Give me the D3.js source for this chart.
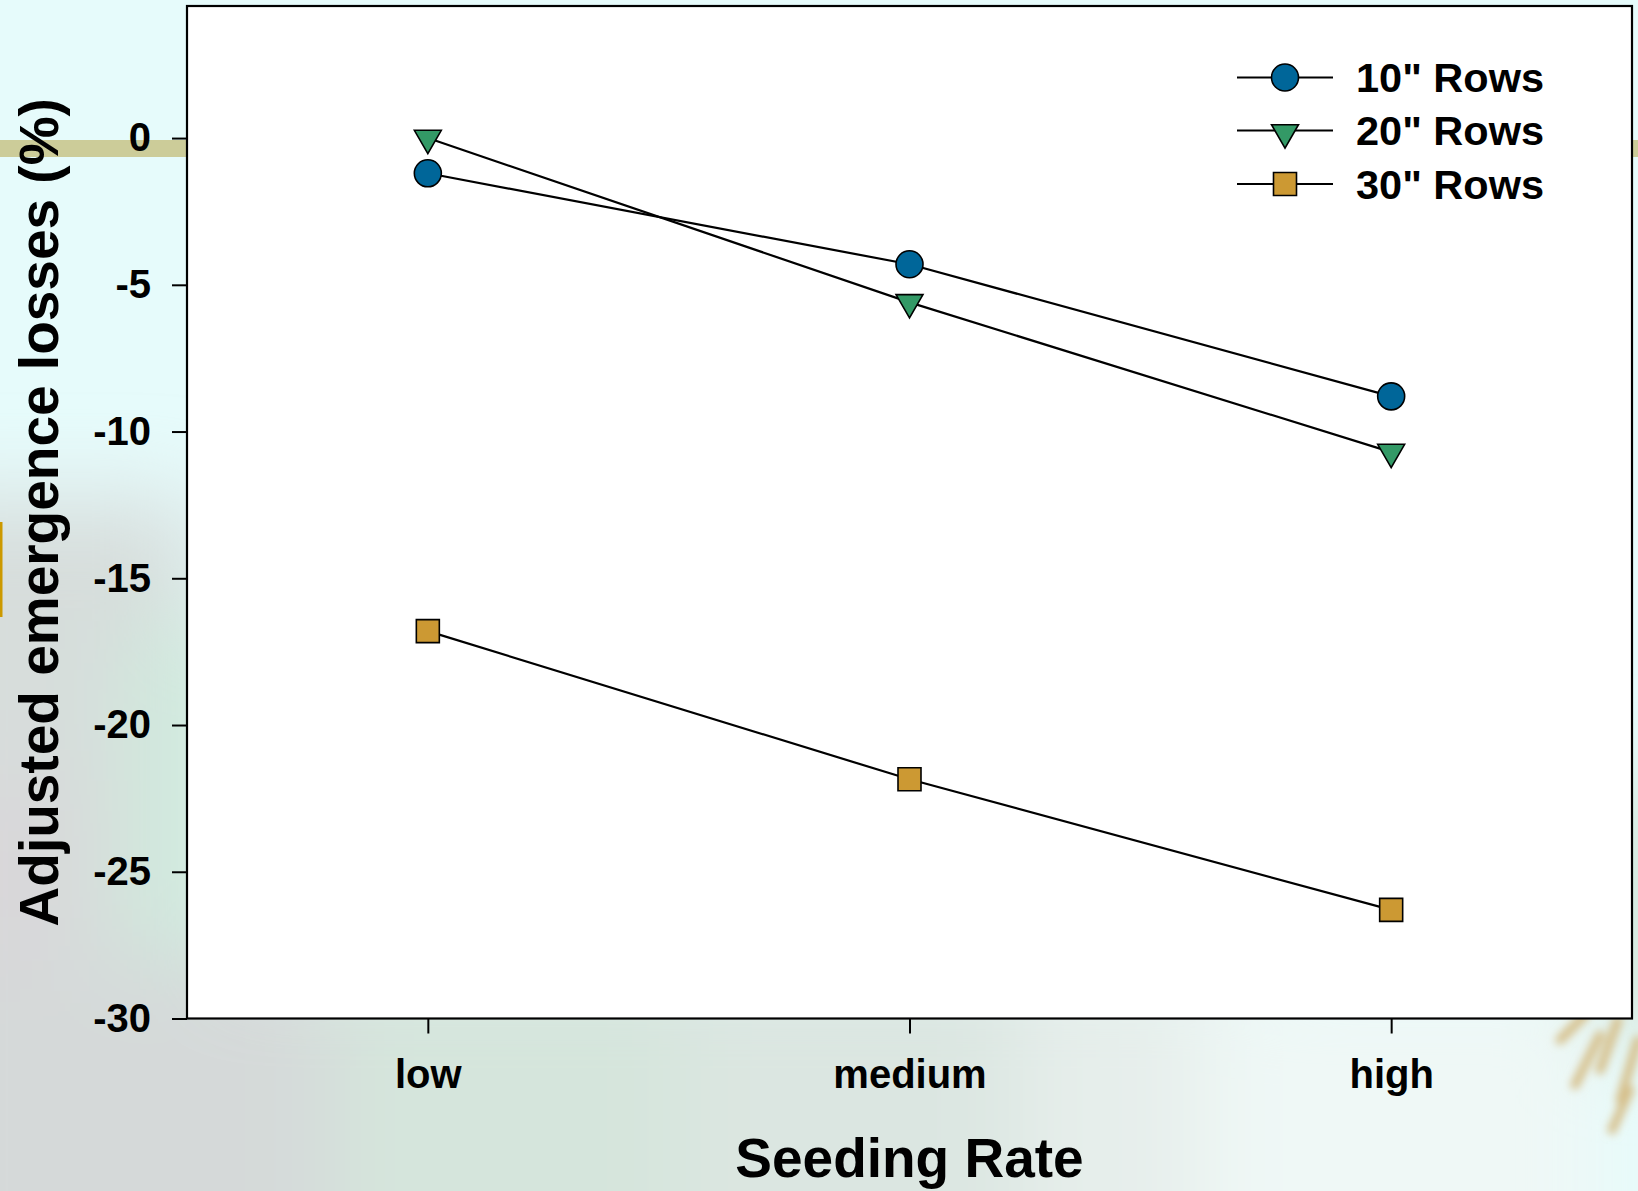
<!DOCTYPE html>
<html>
<head>
<meta charset="utf-8">
<script src="https://cdn.jsdelivr.net/npm/d3@7"></script>
<style>
  html, body { margin: 0; padding: 0; background: #e6fafa; }
  svg { display: block; }
  text { font-family: "Liberation Sans", Arial, sans-serif; font-weight: bold; fill: #000; }
</style>
</head>
<body>
<svg id="chart" width="1638" height="1191"></svg>
<script>
// Seeding-rate categories and adjusted emergence losses (%) per row spacing
const categories = ["low", "medium", "high"];
const rows10 = [-1.2, -4.3, -8.8];
const rows20 = [0.0, -5.6, -10.7];
const rows30 = [-16.8, -21.85, -26.3];
const seriesNames = ['10" Rows', '20" Rows', '30" Rows'];
const yTicks = [0, -5, -10, -15, -20, -25, -30];

const W = 1638, H = 1191;
const plot = { left: 187, right: 1632, top: 6, bottom: 1018.5 };

const svg = d3.select("#chart");

// ---- soft photographic backdrop behind the chart ----
const defs = svg.append("defs");
const blur = defs.append("filter").attr("id", "soft")
  .attr("filterUnits", "userSpaceOnUse")
  .attr("x", -200).attr("y", -200).attr("width", W + 400).attr("height", H + 400);
blur.append("feGaussianBlur").attr("stdDeviation", 45);
const blurSmall = defs.append("filter").attr("id", "softer")
  .attr("x", "-50%").attr("y", "-50%").attr("width", "200%").attr("height", "200%");
blurSmall.append("feGaussianBlur").attr("stdDeviation", 4);

const bg = svg.append("g");
bg.append("rect").attr("width", W).attr("height", H).attr("fill", "#e6fbfb");
const haze = bg.append("g").attr("filter", "url(#soft)");
const patches = [
  { x: -100, y: 500, w: 300, h: 800, c: "#d7dddb" },
  { x: 120, y: 620, w: 120, h: 420, c: "#d0e9dd" },
  { x: -100, y: 780, w: 170, h: 300, c: "#d9d7d9" },
  { x: -100, y: 960, w: 480, h: 340, c: "#d5d9d9" },
  { x: 330, y: 960, w: 380, h: 340, c: "#d5e5dc" },
  { x: 680, y: 960, w: 380, h: 340, c: "#dbe6e1" },
  { x: 1020, y: 960, w: 240, h: 340, c: "#e6eeeb" },
  { x: 1200, y: 980, w: 400, h: 320, c: "#eff8f6" },
  { x: 1600, y: 780, w: 120, h: 260, c: "#d3e5d9" }
];
haze.selectAll("rect").data(patches).join("rect")
  .attr("x", d => d.x).attr("y", d => d.y)
  .attr("width", d => d.w).attr("height", d => d.h)
  .attr("fill", d => d.c);

// tan band and gold accent of the slide
bg.append("rect").attr("x", 0).attr("y", 140).attr("width", W).attr("height", 17).attr("fill", "#cccc99");
bg.append("rect").attr("x", 0).attr("y", 522).attr("width", 2.5).attr("height", 95).attr("fill", "#cc9900");

// dry seed-head sprigs at the lower right
const sprig = bg.append("g").attr("filter", "url(#softer)")
  .attr("stroke", "#d6bf8a").attr("stroke-linecap", "round").attr("fill", "none");
[[1600, 1035, 1575, 1085], [1618, 1020, 1600, 1070], [1638, 1040, 1620, 1100],
 [1585, 1015, 1560, 1040], [1630, 1090, 1612, 1130]].forEach(s => {
  sprig.append("line").attr("x1", s[0]).attr("y1", s[1]).attr("x2", s[2]).attr("y2", s[3])
    .attr("stroke-width", 9);
});

// ---- scales ----
const x = d3.scalePoint().domain(categories).range([plot.left, plot.right]).padding(0.5);
const y = d3.scaleLinear().domain([-30, 4.5]).range([plot.bottom, plot.top]);

// plot frame
svg.append("rect")
  .attr("x", plot.left).attr("y", plot.top)
  .attr("width", plot.right - plot.left).attr("height", plot.bottom - plot.top)
  .attr("fill", "#ffffff").attr("stroke", "#000").attr("stroke-width", 2.2);

// ---- axes ----
const yAxis = svg.append("g").attr("transform", `translate(${plot.left},0)`)
  .call(d3.axisLeft(y).tickValues(yTicks).tickSize(15).tickPadding(21).tickFormat(d => String(d)));
yAxis.select(".domain").remove();
yAxis.selectAll(".tick line").attr("stroke", "#000").attr("stroke-width", 2);
yAxis.selectAll(".tick text")
  .style("font-family", '"Liberation Sans", Arial, sans-serif')
  .style("font-weight", "bold").style("font-size", "40px").attr("fill", "#000");

const xAxis = svg.append("g").attr("transform", `translate(0,${plot.bottom})`)
  .call(d3.axisBottom(x).tickSize(15).tickPadding(26));
xAxis.select(".domain").remove();
xAxis.selectAll(".tick line").attr("stroke", "#000").attr("stroke-width", 2);
xAxis.selectAll(".tick text")
  .style("font-family", '"Liberation Sans", Arial, sans-serif')
  .style("font-weight", "bold").style("font-size", "40px").attr("fill", "#000");

// axis titles
svg.append("text")
  .attr("x", (plot.left + plot.right) / 2).attr("y", 1177)
  .attr("text-anchor", "middle").style("font-size", "55px")
  .text("Seeding Rate");
svg.append("text")
  .attr("transform", `translate(58,${(plot.top + plot.bottom) / 2}) rotate(-90)`)
  .attr("text-anchor", "middle").style("font-size", "55px")
  .text("Adjusted emergence losses (%)");

// ---- series ----
const series = [
  { name: seriesNames[0], values: rows10, symbol: d3.symbolCircle, size: Math.PI * 13.5 * 13.5, rot: 0, fill: "#006699" },
  { name: seriesNames[1], values: rows20, symbol: d3.symbolTriangle, size: 314, rot: 180, fill: "#339966" },
  { name: seriesNames[2], values: rows30, symbol: d3.symbolSquare, size: 23 * 23, rot: 0, fill: "#cc9933" }
];

const line = d3.line().x((d, i) => x(categories[i])).y(d => y(d));

const g = svg.append("g");
series.forEach(s => {
  g.append("path").datum(s.values)
    .attr("d", line).attr("fill", "none")
    .attr("stroke", "#000").attr("stroke-width", 2.2);
});
series.forEach(s => {
  g.selectAll(null).data(s.values).join("path")
    .attr("transform", (d, i) => `translate(${x(categories[i])},${y(d)}) rotate(${s.rot})`)
    .attr("d", d3.symbol().type(s.symbol).size(s.size))
    .attr("fill", s.fill).attr("stroke", "#000").attr("stroke-width", 1.6);
});

// ---- legend ----
const legendY = [77.5, 130.5, 184];
const legend = svg.append("g");
series.forEach((s, i) => {
  const row = legend.append("g").attr("transform", `translate(0,${legendY[i]})`);
  row.append("line").attr("x1", 1237).attr("x2", 1333).attr("y1", 0).attr("y2", 0)
    .attr("stroke", "#000").attr("stroke-width", 2.2);
  row.append("path")
    .attr("transform", `translate(1285,${i === 1 ? 2 : 0}) rotate(${s.rot})`)
    .attr("d", d3.symbol().type(s.symbol).size(s.size))
    .attr("fill", s.fill).attr("stroke", "#000").attr("stroke-width", 1.6);
  row.append("text").attr("x", 1356).attr("y", 0).attr("dy", "0.36em")
    .style("font-size", "41.5px").text(s.name);
});
</script>
</body>
</html>
